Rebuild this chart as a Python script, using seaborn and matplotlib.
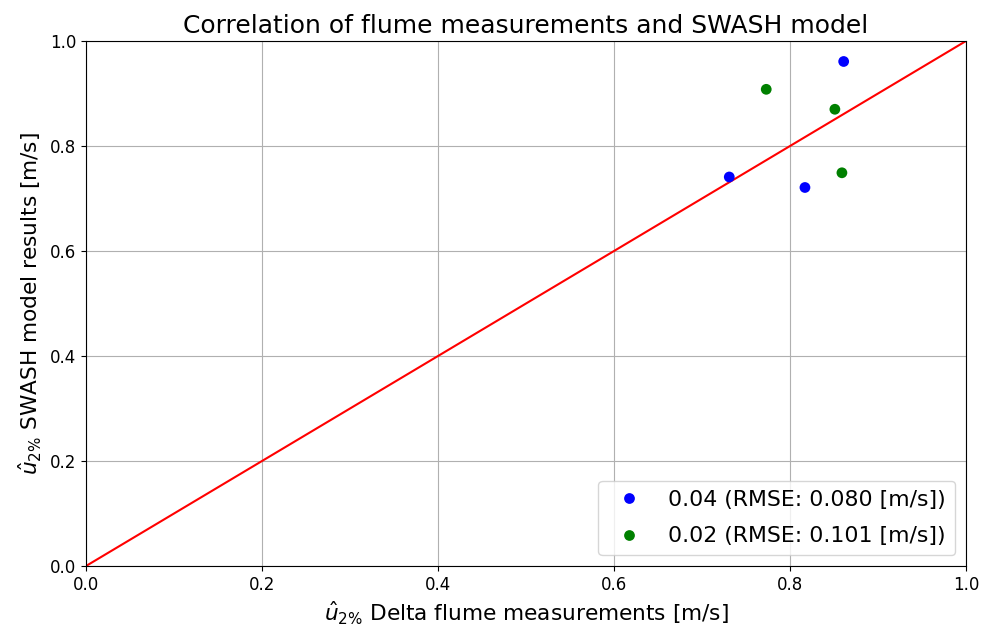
import matplotlib
matplotlib.use("Agg")
import matplotlib.pyplot as plt
import seaborn as sns
import pandas as pd

# Measured (flume) vs modelled (SWASH) u_2% values per wave steepness
steepness = ["0.04", "0.04", "0.04", "0.02", "0.02", "0.02"]
flume_u2 = [0.731, 0.817, 0.861, 0.773, 0.851, 0.859]
swash_u2 = [0.741, 0.721, 0.961, 0.908, 0.870, 0.749]
rmse = {"0.04": 0.080, "0.02": 0.101}
identity = [0.0, 1.0]

labels = [f"{s} (RMSE: {rmse[s]:.3f} [m/s])" for s in steepness]
df = pd.DataFrame({"flume": flume_u2, "swash": swash_u2, "series": labels})

sns.set_style("ticks")
plt.rcParams["font.family"] = ["DejaVu Sans"]
plt.rcParams["text.color"] = "black"
plt.rcParams["axes.labelcolor"] = "black"
plt.rcParams["xtick.color"] = "black"
plt.rcParams["ytick.color"] = "black"

fig, ax = plt.subplots(figsize=(9.84, 6.31), dpi=100)
fig.subplots_adjust(left=0.0874, right=0.9817, top=0.935, bottom=0.103)

sns.scatterplot(data=df, x="flume", y="swash", hue="series",
                palette=["blue", "green"], s=60, edgecolor="none", ax=ax, zorder=3)
sns.lineplot(x=identity, y=identity, color="red", linewidth=1.5, ax=ax, zorder=2)

ax.set_xlim(0, 1)
ax.set_ylim(0, 1)
ax.grid(True, color="#b0b0b0", linewidth=0.8)
ax.set_axisbelow(True)
for sp in ax.spines.values():
    sp.set_visible(True)
    sp.set_color("black")
    sp.set_linewidth(0.8)
ax.tick_params(labelsize=12, length=3.5, width=0.8, color="black", labelcolor="black")

ax.set_title("Correlation of flume measurements and SWASH model", fontsize=18, color="black")
ax.set_xlabel(r"$\hat{u}_{2\%}$ Delta flume measurements [m/s]", fontsize=15.6)
ax.set_ylabel(r"$\hat{u}_{2\%}$ SWASH model results [m/s]", fontsize=15.6)

leg = ax.legend(loc="lower right", fontsize=15.8, title=None, frameon=True,
                labelspacing=0.75)
for t in leg.get_texts():
    t.set_color("black")

fig.savefig("out.png", dpi=100)
